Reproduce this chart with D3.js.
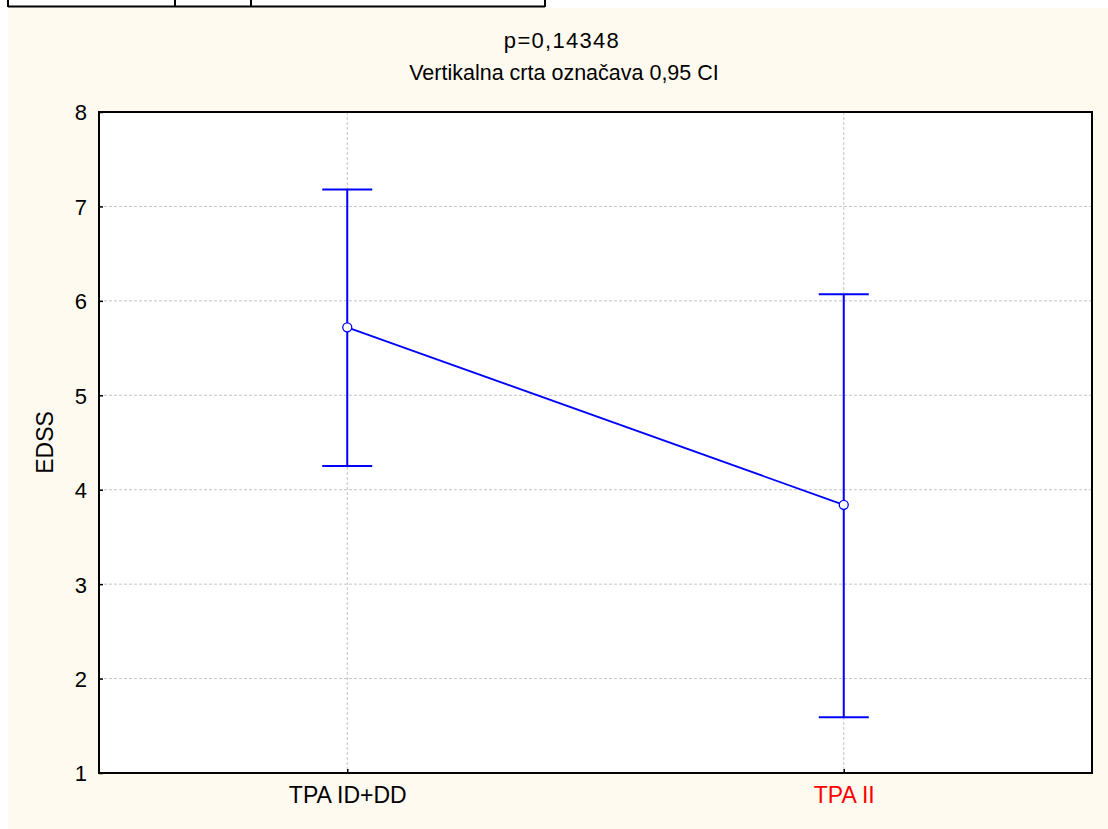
<!DOCTYPE html>
<html>
<head>
<meta charset="utf-8">
<script src="https://cdn.jsdelivr.net/npm/d3@7"></script>
<style>
    body { margin: 0; background: #ffffff; }
    svg { display: block; }
    text { font-family: "Liberation Sans", Arial, sans-serif; fill: #000; }
</style>
</head>
<body>
<svg id="chart" width="1108" height="829"></svg>
<script>

const groups = ["TPA ID+DD", "TPA II"];
const means = [5.72, 3.84];
const ciLow = [4.25, 1.59];
const ciHigh = [7.18, 6.07];
const yTicks = [1, 2, 3, 4, 5, 6, 7, 8];
const labelColors = ["#000000", "#ff0000"];

const svg = d3.select("#chart");
const width = 1108, height = 829;

const margin = {top: 112, right: 16, bottom: 56, left: 99};
const plotW = width - margin.left - margin.right;
const plotH = height - margin.top - margin.bottom;

// cream page
svg.append("rect")
    .attr("x", 8).attr("y", 8)
    .attr("width", width - 8).attr("height", height - 8)
    .attr("fill", "#fffaef");

// table fragment at the top
const tbl = svg.append("g").attr("stroke", "#000").attr("stroke-width", 2);
tbl.append("line").attr("x1", 8).attr("x2", 545).attr("y1", 6.5).attr("y2", 6.5);
[8, 175, 251, 545].forEach(x => {
    tbl.append("line").attr("x1", x).attr("x2", x).attr("y1", 0).attr("y2", 7);
});

const x = d3.scalePoint()
    .domain(groups)
    .range([0, plotW])
    .padding(0.5);

const y = d3.scaleLinear()
    .domain([1, 8])
    .range([plotH, 0]);

const g = svg.append("g")
    .attr("transform", "translate(" + margin.left + "," + margin.top + ")");

g.append("rect")
    .attr("width", plotW).attr("height", plotH)
    .attr("fill", "#ffffff");

// grid
g.selectAll(".hgrid")
    .data(yTicks.slice(1, -1))
    .enter().append("line")
    .attr("class", "hgrid")
    .attr("x1", 0).attr("x2", plotW)
    .attr("y1", d => y(d)).attr("y2", d => y(d))
    .attr("stroke", "#c4c4c4")
    .attr("stroke-dasharray", "3,2");

g.selectAll(".vgrid")
    .data(groups)
    .enter().append("line")
    .attr("class", "vgrid")
    .attr("x1", d => x(d)).attr("x2", d => x(d))
    .attr("y1", 0).attr("y2", plotH)
    .attr("stroke", "#c4c4c4")
    .attr("stroke-dasharray", "3,2");

// axes (ticks point inward)
const yAxis = d3.axisLeft(y).tickValues(yTicks).tickFormat(d3.format("d")).tickSize(-4).tickPadding(12);
const xAxis = d3.axisBottom(x).tickSize(-4).tickPadding(30);

const ya = g.append("g").call(yAxis);
ya.select(".domain").remove();
ya.selectAll("line").attr("stroke", "#000").attr("stroke-width", 1.5);
ya.selectAll("text").style("font-size", "22px").attr("dy", "0.36em");

const xa = g.append("g")
    .attr("transform", "translate(0," + plotH + ")")
    .call(xAxis);
xa.select(".domain").remove();
xa.selectAll("line").attr("stroke", "#000").attr("stroke-width", 1.5);
xa.selectAll("text")
    .style("font-size", "23px")
    .attr("dy", "0")
    .style("fill", (d, i) => labelColors[i]);

// frame
g.append("rect")
    .attr("width", plotW).attr("height", plotH)
    .attr("fill", "none")
    .attr("stroke", "#000")
    .attr("stroke-width", 2);

const data = groups.map((d, i) => ({name: d, mean: means[i], lo: ciLow[i], hi: ciHigh[i]}));
const blue = "#0000ff";

// error bars
const bars = g.selectAll(".err")
    .data(data)
    .enter().append("g")
    .attr("class", "err")
    .attr("stroke", blue)
    .attr("stroke-width", 2);

bars.append("line")
    .attr("x1", d => x(d.name)).attr("x2", d => x(d.name))
    .attr("y1", d => y(d.lo)).attr("y2", d => y(d.hi));
bars.append("line")
    .attr("x1", d => x(d.name) - 25).attr("x2", d => x(d.name) + 25)
    .attr("y1", d => y(d.hi)).attr("y2", d => y(d.hi));
bars.append("line")
    .attr("x1", d => x(d.name) - 25).attr("x2", d => x(d.name) + 25)
    .attr("y1", d => y(d.lo)).attr("y2", d => y(d.lo));

// mean line
g.append("path")
    .datum(data)
    .attr("fill", "none")
    .attr("stroke", blue)
    .attr("stroke-width", 1.8)
    .attr("d", d3.line().x(d => x(d.name)).y(d => y(d.mean)));

g.selectAll(".pt")
    .data(data)
    .enter().append("circle")
    .attr("class", "pt")
    .attr("cx", d => x(d.name))
    .attr("cy", d => y(d.mean))
    .attr("r", 4.5)
    .attr("fill", "#fff")
    .attr("stroke", blue)
    .attr("stroke-width", 1.3);

// titles
svg.append("text")
    .attr("x", 562).attr("y", 48)
    .attr("text-anchor", "middle")
    .style("font-size", "22px")
    .style("letter-spacing", "1.3px")
    .text("p=0,14348");

svg.append("text")
    .attr("x", 564).attr("y", 80)
    .attr("text-anchor", "middle")
    .style("font-size", "21.5px")
    .text("Vertikalna crta označava 0,95 CI");

svg.append("text")
    .attr("transform", "translate(53," + (margin.top + plotH / 2) + ") rotate(-90)")
    .attr("text-anchor", "middle")
    .style("font-size", "23px")
    .text("EDSS");

</script>
</body>
</html>
